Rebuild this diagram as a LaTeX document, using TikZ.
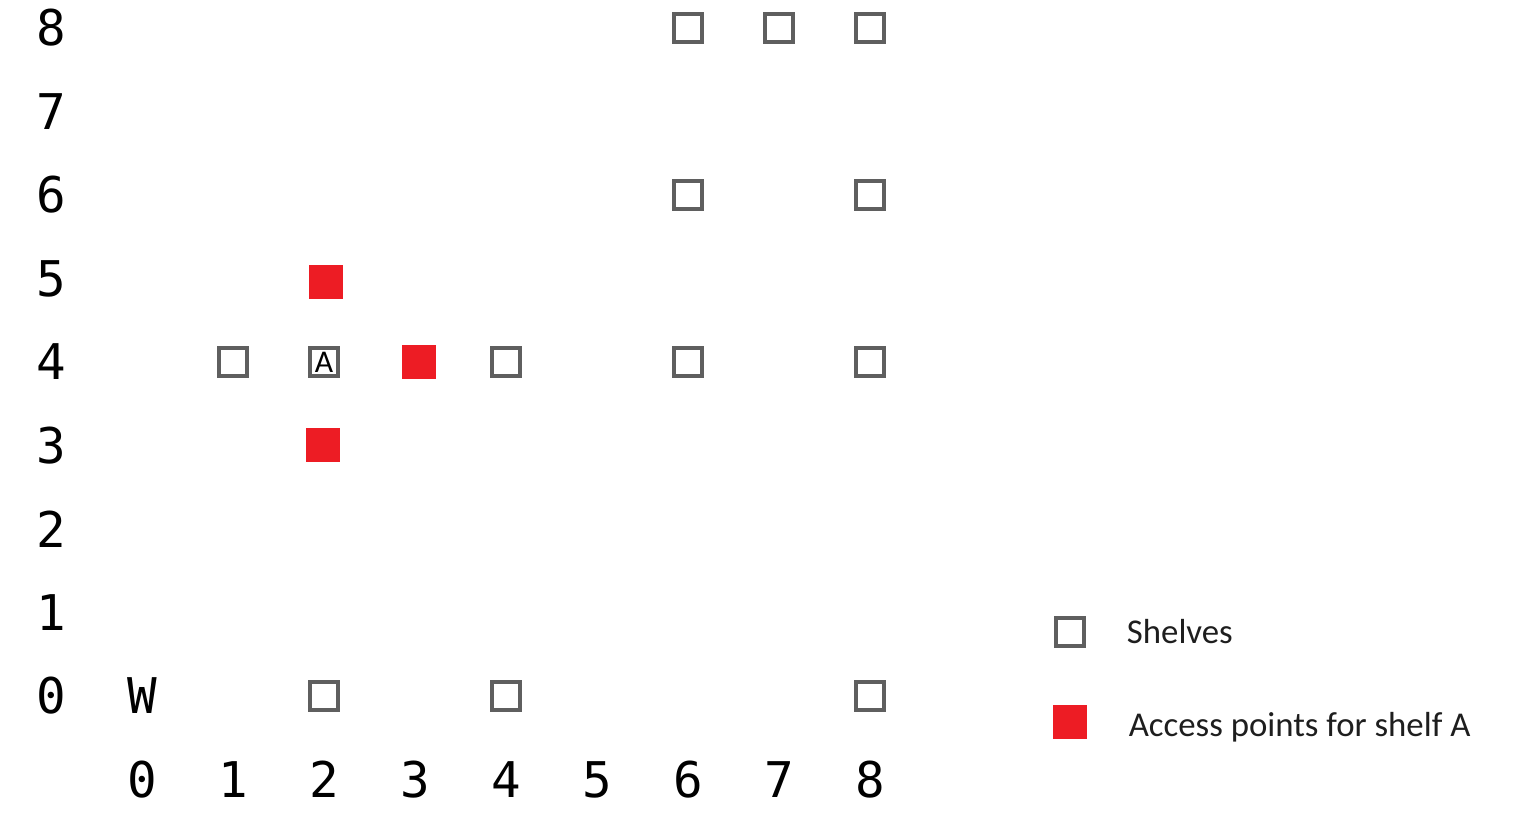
\documentclass[tikz,border=0pt]{standalone}
\usepackage{fontspec}
\setmainfont{Carlito}
\newfontfamily\gridfont{DejaVu Sans Mono}
\usetikzlibrary{positioning}
\definecolor{shelfgray}{RGB}{95,95,95}
\definecolor{accessred}{RGB}{237,28,36}
\definecolor{textdark}{RGB}{30,30,30}

\begin{document}
\begin{tikzpicture}[
    x=1.82cm, y=1.67cm,
    axislabel/.style={font=\gridfont\fontsize{28}{28}\selectfont, text=black, inner sep=0pt},
    shelf/.style={rectangle, draw=shelfgray, line width=2.2pt, fill=white, minimum size=0.56cm, inner sep=0pt, font=\fontsize{18}{18}\selectfont},
    access/.style={rectangle, fill=accessred, minimum size=0.68cm, inner sep=0pt},
    legendtext/.style={anchor=west, font=\fontsize{19.8}{20}\selectfont, text=textdark, inner sep=0pt}
]
    \useasboundingbox (-1.560,-1.533) rectangle (15.143,8.335);

    % axis labels
    \foreach \r in {0,...,8}
        \node (row\r) [axislabel] at (-1,\r) {\r};
    \foreach \c in {0,...,8}
        \node (col\c) [axislabel] at (\c,-1) {\c};
    \node (wh) [axislabel] at (0,0) {W};

    % shelves
    \foreach \c/\r in {6/8,7/8,8/8,6/6,8/6,1/4,4/4,6/4,8/4,2/0,4/0,8/0}
        \node (shelf\c\r) [shelf] at (\c,\r) {};
    \node (shelfA) [shelf] at (2,4) {A};

    % access points for shelf A
    \node (accN) [access] at (2.02,4.96) {};
    \node (accE) [access] at (3.04,4) {};
    \node (accS) [access] at (1.99,3) {};

    % legend
    \node (legshelf) [shelf] at (10.198,0.766) {};
    \node (legacc) [access] at (10.198,-0.311) {};
    \node (legshelftxt) [legendtext] at (10.82,0.766) {Shelves};
    \node (legacctxt) [legendtext] at (10.84,-0.37) {Access points for shelf A};

\end{tikzpicture}
\end{document}
